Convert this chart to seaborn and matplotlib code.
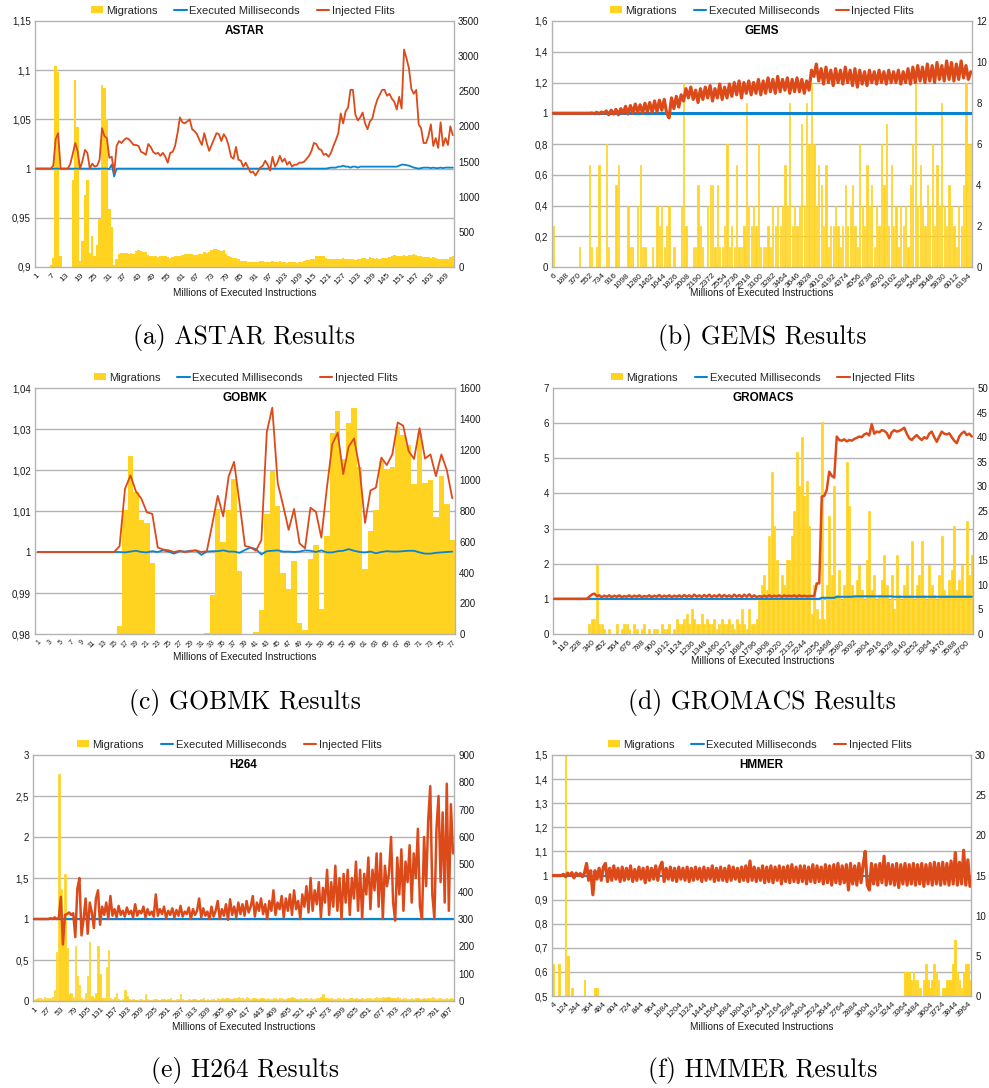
import numpy as np
import matplotlib
matplotlib.use("Agg")
import matplotlib.pyplot as plt
import seaborn as sns
from matplotlib.patches import Patch
from matplotlib.lines import Line2D

sns.set_style("white")
plt.rcParams['font.family'] = ['Liberation Sans', 'DejaVu Sans']

YEL = '#ffd320'
BLUE = '#0a84d0'
RED = '#dd4a1a'
GRID = '#b3b3b3'
TXT = '#1a1a1a'

# ---------------- ASTAR ----------------
astar_x = list(range(1, 173))
astar_mig = ([0, 0, 0, 0, 0, 0,
              30, 130, 2860, 2770, 160, 0, 0, 0,
              0, 1240, 2660, 1985, 80, 365, 1030, 1240, 200, 436, 160, 318, 690, 2590, 2545, 2100, 830, 570, 30, 120,
              190, 200, 205, 200, 190, 200, 185,
              230, 237, 225, 215, 210,
              170, 160, 150, 155, 145, 150, 160, 150, 140,
              135, 140, 150, 160, 150,
              165, 190, 185, 190, 180, 170,
              165, 180, 190, 210, 200,
              215, 240, 255, 250, 240, 225, 240,
              180, 150, 140, 130, 125, 110,
              90, 80, 85, 75, 70, 75, 70, 70, 80, 85, 75, 70,
              75, 80, 70, 75, 80, 70, 65, 60, 70, 75, 65, 60, 70, 75,
              90, 100, 95, 110, 120, 150, 150, 155, 150,
              130, 120, 115, 110, 120, 115, 120, 125, 110, 120, 110, 115,
              105, 120, 110, 125, 130, 120, 140, 125, 120, 135, 120, 130, 135, 130, 140,
              150, 165, 155, 160, 150, 165, 160, 170, 175, 180, 165, 160, 150,
              140, 145, 140, 135, 140, 130, 120, 115, 110, 110, 120, 140, 160])
astar_flits = ([1.0, 1.0, 1.0, 1.0, 1.0, 1.0, 1.0,
                1.003, 1.030, 1.036, 1.0, 1.0, 1.0, 1.0, 1.005, 1.015, 1.026, 1.018, 1.0, 1.008,
                1.019, 1.016, 1.0, 1.005, 1.002, 1.003, 1.009, 1.041, 1.033, 1.031, 1.011, 1.012, 0.996,
                1.023, 1.028, 1.026, 1.029, 1.031, 1.030, 1.027, 1.024, 1.024, 1.023,
                1.017, 1.016, 1.014, 1.025, 1.022, 1.017, 1.015, 1.016, 1.013, 1.016,
                1.012, 1.006, 1.016, 1.017, 1.023, 1.036, 1.052, 1.047, 1.046, 1.048,
                1.050, 1.040, 1.038, 1.035, 1.029, 1.024, 1.036, 1.026, 1.018, 1.024,
                1.030, 1.036, 1.035, 1.028, 1.035, 1.031, 1.023, 1.012, 1.010, 1.022,
                1.009, 1.008, 1.002, 1.006, 1.001, 0.996, 0.997, 0.993, 0.997, 1.001,
                1.003, 1.008, 1.004, 0.998, 1.012, 1.002, 1.006, 1.013, 1.007, 1.010,
                1.004, 1.007, 1.002, 1.004, 1.004, 1.006, 1.006, 1.007, 1.010, 1.013,
                1.018, 1.026, 1.025, 1.020, 1.019, 1.014, 1.015, 1.012, 1.016, 1.023,
                1.029, 1.036, 1.056, 1.046, 1.058, 1.062, 1.080, 1.080, 1.055, 1.049,
                1.052, 1.057, 1.046, 1.040, 1.048, 1.051, 1.062, 1.070, 1.075, 1.080,
                1.080, 1.074, 1.076, 1.071, 1.068, 1.060, 1.073, 1.061, 1.121, 1.112,
                1.102, 1.081, 1.076, 1.080, 1.045, 1.041, 1.026, 1.026, 1.033, 1.045,
                1.023, 1.031, 1.021, 1.047, 1.023, 1.031, 1.024, 1.043, 1.034])
astar_exec = ([1.0] * 30 + [0.9995, 1.004, 0.992, 1.0] + [1.0] * 85
              + [1.0, 1.0005, 1.001, 1.001, 1.001]
              + [1.002, 1.002, 1.003, 1.002, 1.002, 1.001, 1.002, 1.002, 1.001, 1.002, 1.002]
              + [1.002] * 14
              + [1.003, 1.004, 1.004, 1.0035, 1.003, 1.002, 1.001]
              + [1.0005, 1.0, 1.0005, 1.001, 1.001, 1.001, 1.0005, 1.001, 1.0005, 1.0005,
                 1.001, 1.0005, 1.001, 1.001, 1.001, 1.001])

# ---------------- GEMS ----------------
gems_x = [6 + 36 * i for i in range(174)]
gems_mig = [2, 0, 0, 0, 0, 0, 0, 0, 0, 0,
            0, 1, 0, 0, 0, 5, 1, 0, 1, 5,
            0, 0, 6, 1, 0, 0, 4, 5, 0, 0,
            0, 3, 1, 1, 0, 3, 5, 1, 1, 0,
            0, 1, 0, 3, 2, 3, 1, 2, 3, 0,
            1, 0, 0, 3, 9, 2, 0, 0, 1, 1,
            4, 2, 1, 0, 3, 4, 4, 1, 4, 1,
            1, 2, 6, 1, 2, 1, 5, 1, 1, 2,
            8, 3, 2, 3, 2, 6, 1, 1, 1, 2,
            1, 3, 2, 3, 2, 3, 5, 3, 8, 2,
            3, 2, 3, 7, 3, 8, 6, 9, 6, 3,
            5, 4, 2, 5, 1, 2, 2, 3, 2, 1,
            2, 4, 2, 3, 4, 2, 1, 6, 3, 2,
            5, 3, 4, 1, 3, 2, 6, 4, 7, 2,
            5, 2, 3, 1, 3, 2, 3, 1, 4, 6,
            9, 3, 5, 3, 2, 4, 3, 6, 2, 5,
            3, 8, 3, 2, 4, 3, 2, 1, 3, 2,
            4, 9, 6, 6]
gems_flits = ([1.0] * 16
              + [1.002, 0.998, 1.006, 0.997, 1.008, 1.0]
              + [1.015, 0.99, 1.02, 0.995, 1.025, 0.99, 1.03]
              + [1.0, 1.045, 0.995, 1.05, 1.0, 1.06, 1.005, 1.055, 1.0, 1.065]
              + [1.01, 1.07, 1.005, 1.08, 1.01, 1.085, 1.02, 1.09, 1.0]
              + [0.97, 1.1, 1.03, 1.11, 1.04]
              + [1.12, 1.08, 1.16, 1.1, 1.17, 1.09]
              + [1.15, 1.07, 1.16, 1.09, 1.17, 1.1, 1.18, 1.08, 1.16, 1.1, 1.19, 1.09, 1.17, 1.1]
              + [1.19, 1.11, 1.2, 1.12, 1.21, 1.1, 1.2, 1.13, 1.21, 1.12, 1.2, 1.13, 1.22, 1.12]
              + [1.21, 1.13, 1.23, 1.14, 1.22, 1.13, 1.24, 1.14, 1.22, 1.15, 1.23, 1.13, 1.22, 1.14]
              + [1.23, 1.14, 1.22, 1.13, 1.21, 1.15]
              + [1.28, 1.24, 1.32]
              + [1.21, 1.29, 1.19, 1.3, 1.2, 1.28, 1.18, 1.29, 1.2, 1.28, 1.19, 1.3, 1.2, 1.28, 1.18, 1.29, 1.17, 1.28]
              + [1.19, 1.27, 1.18, 1.28, 1.2, 1.27, 1.19, 1.28, 1.2, 1.27, 1.19, 1.28, 1.2, 1.27, 1.2, 1.28,
                 1.19, 1.27, 1.2, 1.29, 1.19]
              + [1.3, 1.2, 1.31, 1.21, 1.3, 1.2, 1.32, 1.21, 1.31, 1.2, 1.33, 1.22, 1.31, 1.21, 1.34, 1.22,
                 1.33, 1.21, 1.32, 1.22, 1.34, 1.23, 1.31, 1.22, 1.27])
gems_exec = [1.0] * 174

# ---------------- GOBMK ----------------
gobmk_x = list(range(1, 78))
gobmk_mig = ([0] * 15
             + [54, 805, 1160, 922, 744, 722, 462]
             + [0] * 9
             + [6, 252, 815, 599, 805, 1010, 410, 0, 0, 10, 156, 780, 1060, 832, 399, 295, 477, 74, 28,
                488, 579, 163, 639, 1305, 1450, 1138, 1375, 1472, 1088, 420, 672, 805, 1125, 1073, 1088,
                1349, 1294, 1229, 975, 1305, 984, 1002, 759, 1030, 846, 611])
gobmk_flits = ([1.0] * 15
               + [1.0014, 1.0154, 1.0187, 1.0148, 1.013, 1.0097, 1.0093, 1.0011, 1.0006, 1.0004,
                  1.0, 1.0003, 1.0, 1.0002, 1.0004, 1.0, 1.0002, 1.0068, 1.0137, 1.0087,
                  1.0184, 1.022, 1.0119, 1.0015, 1.0011, 1.0003, 1.0029, 1.0293, 1.0352, 1.0168,
                  1.0113, 1.0054, 1.0105, 1.0021, 1.0009, 1.0108, 1.0098, 1.0035, 1.0155, 1.0263,
                  1.0291, 1.019, 1.0257, 1.0277, 1.0204, 1.0071, 1.015, 1.0157, 1.023, 1.0212,
                  1.0238, 1.0316, 1.0308, 1.0246, 1.0227, 1.0302, 1.0228, 1.0238, 1.0185, 1.0238,
                  1.02, 1.0131])
gobmk_exec = ([1.0] * 15
              + [1.0, 0.9999, 1.0001, 1.0003, 1.0, 0.9999, 1.0002, 1.0, 1.0004, 1.0001,
                 0.9996, 1.0002, 1.0001, 1.0003, 1.0004, 0.9993, 1.0001, 1.0002, 1.0002, 1.0004,
                 1.0001, 1.0001, 0.9998, 1.0005, 1.0011, 1.0007, 0.9994, 1.0002, 1.0003, 1.0004,
                 1.0001, 1.0001, 1.0, 1.0001, 1.0004, 1.0003, 1.0, 1.0004, 0.9999, 0.9999,
                 1.0002, 1.0003, 1.0007, 1.0003, 1.0, 0.9999, 1.0001, 0.9997, 1.0, 1.0002,
                 1.0001, 1.0001, 1.0002, 1.0003, 1.0003, 0.9999, 0.9996, 0.9996, 0.9998, 0.9999,
                 1.0, 1.0001])

# ---------------- GROMACS ----------------
gromacs_x = [4 + 22.4 * i for i in range(168)]
gromacs_mig = ([0] * 14
               + [2, 3, 3, 14, 2, 2, 1]
               + [0, 1, 0, 0, 2, 0, 1, 2, 2, 1,
                  0, 2, 1, 0, 1, 2, 0, 1, 0, 1,
                  1, 0, 2, 1, 1, 2, 0, 1, 3, 2,
                  2, 3, 4, 2, 5, 3, 2, 2, 4, 2,
                  3, 2, 2, 3, 1, 2, 3, 2, 2, 3,
                  2, 1, 3, 2, 5, 2, 1, 5, 2, 2, 3, 7]
               + [10, 12, 9, 20, 33, 22, 15, 8, 12, 10, 15, 15, 20, 25, 37, 30, 40, 28, 31, 22,
                  4, 10, 5, 3, 43, 3, 10, 24, 12, 30, 8, 13, 7, 10, 35, 26, 10, 8, 11, 14,
                  9, 7, 15, 25, 9, 12, 7, 8, 11, 16, 10, 7, 12, 5, 16, 8, 7, 10, 14, 8,
                  19, 7, 10, 12, 19, 8, 7, 14, 10, 8, 7, 12, 20, 9, 8, 11, 13, 22, 9, 11,
                  14, 8, 23, 12, 16])
gromacs_flits = ([1.0] * 14
                 + [1.06, 1.12, 1.15, 1.08, 1.1, 1.05, 1.09, 1.06, 1.1, 1.05,
                    1.09, 1.06, 1.1, 1.05, 1.08, 1.06, 1.1, 1.05, 1.09, 1.06,
                    1.1, 1.05, 1.08, 1.06, 1.1, 1.05, 1.09, 1.06, 1.11, 1.05,
                    1.09, 1.06, 1.1, 1.05, 1.09, 1.06, 1.1, 1.05, 1.11, 1.06,
                    1.1, 1.05, 1.12, 1.06, 1.1, 1.05, 1.11, 1.06, 1.12, 1.05,
                    1.1, 1.06, 1.12, 1.05, 1.11, 1.06, 1.1, 1.05, 1.12, 1.06,
                    1.11, 1.05, 1.12, 1.06, 1.13, 1.05, 1.1, 1.05, 1.08, 1.06,
                    1.09, 1.06, 1.1, 1.06, 1.09, 1.07, 1.1, 1.06, 1.1, 1.07,
                    1.09, 1.07, 1.1, 1.06, 1.1, 1.07, 1.09, 1.07, 1.08, 1.08, 1.08]
                 + [1.44, 1.44, 3.91, 3.93, 4.1, 4.62, 4.5, 4.45]
                 + [5.62, 5.52, 5.5, 5.54, 5.48, 5.52, 5.5, 5.55, 5.58, 5.62,
                    5.6, 5.68, 5.71, 5.65, 5.97, 5.7, 5.76, 5.74, 5.8, 5.78,
                    5.72, 5.57, 5.74, 5.8, 5.76, 5.78, 5.82, 5.87, 5.7, 5.57,
                    5.52, 5.6, 5.66, 5.58, 5.52, 5.6, 5.56, 5.7, 5.76, 5.6,
                    5.47, 5.62, 5.76, 5.7, 5.68, 5.71, 5.6, 5.5, 5.43, 5.62,
                    5.71, 5.76, 5.66, 5.7, 5.62])
gromacs_exec = [1.0] * 107 + [1.03] * 6 + [1.06] * 7 + [1.07] * 16 + [1.06] * 32

# ---------------- H264 ----------------
h264_x = [1 + 4 * i for i in range(204)]
h264_mig = [5, 8, 10, 12, 8, 15, 12, 10, 12, 15,
            40, 180, 830, 410, 230, 465, 195, 25, 30, 15,
            200, 90, 60, 10, 8, 30, 90, 215, 20, 10,
            30, 200, 100, 10, 12, 125, 186, 10, 8, 15,
            30, 8, 5, 6, 39, 20, 6, 5, 8, 5,
            4, 6, 8, 5, 25, 6, 4, 5, 8, 6,
            5, 4, 6, 8, 5, 6, 12, 5, 4, 6,
            8, 25, 6, 5, 4, 6, 5, 8, 6, 5,
            4, 6, 10, 5, 6, 4, 8, 6, 5, 10,
            6, 12, 8, 10, 12, 8, 6, 10, 12, 15,
            10, 12, 8, 15, 10, 8, 12, 10, 8, 6,
            10, 12, 8, 10, 6, 8, 12, 10, 8, 10,
            12, 8, 6, 10, 12, 14, 10, 8, 6, 10,
            8, 10, 12, 8, 10, 6, 8, 10, 12, 14,
            25, 12, 10, 8, 10, 6, 8, 12, 10, 8,
            10, 8, 6, 10, 12, 8, 10, 6, 8, 10,
            8, 10, 12, 10, 8, 12, 14, 10, 12, 15,
            12, 14, 15, 12, 10, 12, 14, 10, 8, 12,
            10, 8, 6, 10, 8, 12, 10, 8, 6, 10,
            8, 12, 10, 14, 10, 8, 12, 10, 6, 8,
            12, 8, 10, 6]
h264_flits = [1.0, 1.0, 1.0, 1.0, 1.0, 1.0, 1.0, 1.0, 1.01, 1.0,
              1.02, 1.0, 1.01, 1.27, 0.69, 1.05, 1.06, 1.08, 1.05, 1.07,
              0.78, 1.37, 1.5, 0.8, 1.0, 1.25, 0.82, 1.2, 1.08, 0.89,
              1.25, 1.35, 0.93, 1.15, 1.05, 1.2, 1.0, 1.28, 1.04, 1.12,
              1.02, 1.16, 1.05, 1.1, 1.03, 1.14, 1.06, 1.1, 1.02, 1.18,
              1.04, 1.1, 1.07, 1.15, 1.02, 1.12, 1.05, 1.09, 1.03, 1.3,
              1.04, 1.12, 1.06, 1.15, 1.01, 1.1, 1.05, 1.13, 1.02, 1.11,
              1.04, 1.16, 1.03, 1.09, 1.06, 1.14, 1.0, 1.12, 1.05, 1.1,
              1.25, 1.02, 1.13, 1.04, 1.09, 1.0, 1.15, 1.03, 1.1, 1.22,
              1.0, 1.12, 1.04, 1.18, 0.99, 1.24, 1.05, 1.15, 1.02, 1.2,
              1.06, 1.18, 1.04, 1.22, 1.08, 1.15, 1.28, 1.03, 1.2, 1.1,
              1.25, 1.06, 1.18, 1.0, 1.22, 1.1, 1.35, 1.05, 1.2, 1.12,
              1.28, 1.02, 1.25, 1.1, 1.3, 1.05, 1.35, 1.12, 1.22, 1.0,
              1.3, 1.15, 1.4, 1.08, 1.5, 1.1, 1.35, 1.18, 1.45, 1.02,
              1.38, 1.2, 1.6, 1.05, 1.45, 1.15, 1.65, 1.1, 1.5, 1.0,
              1.55, 1.2, 1.6, 1.05, 1.5, 1.25, 1.7, 1.1, 1.6, 1.0,
              1.55, 1.3, 1.75, 1.12, 1.6, 1.35, 1.8, 1.15, 1.8, 1.0,
              1.65, 1.4, 1.55, 2.0, 1.2, 0.98, 1.75, 1.3, 1.85, 1.1,
              1.7, 1.45, 1.9, 1.2, 1.8, 1.5, 2.1, 1.15, 1.0, 2.0,
              1.4, 2.2, 2.62, 1.3, 1.0, 2.1, 2.5, 1.45, 2.3, 1.2,
              2.65, 1.1, 2.4, 1.8]
h264_exec = [1.0] * 204

# ---------------- HMMER ----------------
hmmer_x = [4 + 20 * i for i in range(200)]
hmmer_mig = ([4, 0, 0, 4, 0, 0, 30, 5, 0, 1, 0, 0, 0, 0, 0, 2, 0, 0, 0, 0, 1, 1]
             + [0] * 146
             + [3, 3, 3, 2, 3, 2, 2, 1, 0, 2, 4, 2, 1, 2, 4, 3, 2, 0, 1, 1,
                2, 2, 2, 4, 7, 3, 2, 1, 3, 4, 4, 2])
hmmer_flits = [1.0, 1.0, 1.0, 1.0, 1.0, 1.005, 0.995, 1.01, 1.0, 1.012,
               0.99, 1.01, 1.0, 1.008, 0.995, 1.01, 1.05, 0.98, 1.02, 0.92,
               1.02, 0.985, 1.03, 0.98, 1.035, 1.05, 0.975, 1.03, 0.98, 1.04,
               0.985, 1.03, 0.975, 1.035, 0.98, 1.03, 0.985, 1.04, 0.975, 1.025,
               0.98, 1.035, 0.985, 1.03, 0.97, 1.035, 0.98, 1.03, 0.985, 1.04,
               0.98, 1.035, 1.055, 0.975, 1.03, 0.985, 1.035, 0.98, 1.03, 0.975,
               1.035, 0.985, 1.03, 0.98, 1.035, 0.975, 1.03, 0.98, 1.035, 0.985,
               1.03, 0.975, 1.035, 0.98, 1.03, 0.985, 1.04, 0.975, 1.03, 0.98,
               1.035, 0.98, 1.03, 0.975, 1.04, 0.98, 1.035, 0.985, 1.03, 0.975,
               1.035, 0.98, 1.04, 0.975, 1.06, 0.98, 1.035, 0.975, 1.03, 0.98,
               1.04, 0.97, 1.035, 0.975, 1.04, 0.97, 1.035, 0.98, 1.04, 0.965,
               1.035, 0.975, 1.04, 0.97, 1.045, 0.975, 1.035, 0.97, 1.04, 0.975,
               1.04, 0.965, 1.035, 0.975, 1.045, 0.97, 1.04, 0.975, 1.035, 0.965,
               1.045, 0.97, 1.04, 0.96, 1.045, 0.97, 1.05, 0.965, 1.04, 0.97,
               1.045, 0.94, 1.05, 0.965, 1.04, 0.96, 1.05, 0.97, 1.045, 1.1,
               0.96, 0.94, 1.05, 0.965, 1.045, 0.96, 1.05, 0.97, 1.08, 0.96,
               1.05, 0.965, 1.045, 0.96, 1.05, 0.95, 1.045, 0.965, 1.05, 0.96,
               1.045, 0.965, 1.05, 0.96, 1.045, 0.965, 1.05, 0.955, 1.045, 0.965,
               1.05, 0.96, 1.055, 0.965, 1.05, 0.96, 1.055, 0.965, 1.05, 0.96,
               1.06, 0.965, 1.095, 0.96, 1.055, 0.965, 1.105, 0.96, 1.065, 0.955]
hmmer_exec = [1.0] * 200

LEGEND_LABELS = ['Migrations', 'Executed Milliseconds', 'Injected Flits']
XLABEL = 'Millions of Executed Instructions'

W, H = 989, 1088
fig = plt.figure(figsize=(W / 100, H / 100), dpi=100)


def panel(px, title, x, mig, exe, flits, xlim, xticks, lticks, llabels, rticks, rlabels,
          bar_w, bar_lw, lw_e, lw_f, leg_cx, xlab_off, xt_fs=6):
    assert len(x) == len(mig) == len(exe) == len(flits), (title, len(x), len(mig), len(exe), len(flits))
    l, t, r, b = px
    hpx = b - t
    ax = fig.add_axes([l / W, 1 - b / H, (r - l) / W, hpx / H])
    axb = ax.twinx()
    ax.set_zorder(axb.get_zorder() + 1)
    ax.patch.set_visible(False)

    lo, hi = lticks[0], lticks[-1]
    for tv in lticks[1:-1]:
        f = (tv - lo) / (hi - lo)
        axb.plot([0, 1], [f, f], transform=axb.transAxes, color=GRID, lw=1.0, zorder=0.5,
                 solid_capstyle='butt')

    sns.barplot(x=x, y=mig, native_scale=True, orient='x', width=bar_w, color=YEL,
                saturation=1, linewidth=bar_lw, edgecolor=YEL, errorbar=None, ax=axb)
    sns.lineplot(x=x, y=exe, color=BLUE, lw=lw_e, errorbar=None, ax=ax)
    sns.lineplot(x=x, y=flits, color=RED, lw=lw_f, errorbar=None, ax=ax)

    ax.set_ylim(lo, hi)
    axb.set_ylim(rticks[0], rticks[-1])
    ax.set_xlim(*xlim)
    axb.set_xlim(*xlim)

    ax.set_yticks(lticks)
    ax.set_yticklabels(llabels, fontsize=7, color=TXT)
    ax.tick_params(axis='y', length=0, pad=3)
    axb.set_yticks(rticks)
    axb.set_yticklabels(rlabels, fontsize=7, color=TXT)
    axb.tick_params(axis='y', length=0, pad=3)
    ax.set_xticks(xticks)
    ax.set_xticklabels([str(v) for v in xticks], rotation=45, ha='right',
                       rotation_mode='anchor', fontsize=xt_fs, color=TXT)
    ax.tick_params(axis='x', length=2, color=GRID, pad=1.5)
    ax.set_ylabel('')
    axb.set_ylabel('')
    ax.set_xlabel(XLABEL, fontsize=7.2, color=TXT)
    ax.xaxis.set_label_coords(0.5, -xlab_off / hpx)

    for s in ax.spines.values():
        s.set_visible(False)
    for s in axb.spines.values():
        s.set_color(GRID)
        s.set_linewidth(1.0)

    ax.text(0.5, 1 - 9.5 / hpx, title, transform=ax.transAxes, ha='center', va='center',
            fontsize=8.5, fontweight='bold', color='black')

    handles = [Patch(facecolor=YEL, edgecolor='none'),
               Line2D([], [], color=BLUE, lw=1.5),
               Line2D([], [], color=RED, lw=1.5)]
    ax.legend(handles, LEGEND_LABELS, loc='center', bbox_to_anchor=(leg_cx, 1 + 10.5 / hpx),
              ncol=3, frameon=False, fontsize=8, handlelength=1.1, handleheight=0.6,
              handletextpad=0.25, columnspacing=1.55, borderaxespad=0, borderpad=0)
    return ax


panel((35, 21, 454, 267), 'ASTAR', astar_x, astar_mig, astar_exec, astar_flits,
      (0.5, 172.5), list(range(1, 170, 6)),
      [0.9, 0.95, 1.0, 1.05, 1.1, 1.15], ['0,9', '0,95', '1', '1,05', '1,1', '1,15'],
      list(range(0, 3501, 500)), [str(v) for v in range(0, 3501, 500)],
      1.0, 0, 1.3, 1.3, 0.496, 21)

panel((552, 21, 972, 267), 'GEMS', gems_x, gems_mig, gems_exec, gems_flits,
      (-12, 6252), list(range(6, 6195, 182)),
      [0, 0.2, 0.4, 0.6, 0.8, 1.0, 1.2, 1.4, 1.6],
      ['0', '0,2', '0,4', '0,6', '0,8', '1', '1,2', '1,4', '1,6'],
      list(range(0, 13, 2)), [str(v) for v in range(0, 13, 2)],
      0.5, 0.5, 2.2, 2.3, 0.5, 21)

panel((35, 388, 455, 634), 'GOBMK', gobmk_x, gobmk_mig, gobmk_exec, gobmk_flits,
      (0.5, 77.5), list(range(1, 78, 2)),
      [0.98, 0.99, 1.0, 1.01, 1.02, 1.03, 1.04],
      ['0,98', '0,99', '1', '1,01', '1,02', '1,03', '1,04'],
      list(range(0, 1601, 200)), [str(v) for v in range(0, 1601, 200)],
      1.0, 0, 1.3, 1.3, 0.502, 17.5, xt_fs=5)

panel((553, 388, 973, 634), 'GROMACS', gromacs_x, gromacs_mig, gromacs_exec, gromacs_flits,
      (-7.2, 3756), list(range(4, 3701, 112)),
      [0, 1, 2, 3, 4, 5, 6, 7], ['0', '1', '2', '3', '4', '5', '6', '7'],
      list(range(0, 51, 5)), [str(v) for v in range(0, 51, 5)],
      0.9, 0.5, 1.5, 1.8, 0.5, 21.5)

panel((33, 755, 454, 1001), 'H264', h264_x, h264_mig, h264_exec, h264_flits,
      (-1, 815), list(range(1, 808, 26)),
      [0, 0.5, 1.0, 1.5, 2.0, 2.5, 3.0], ['0', '0,5', '1', '1,5', '2', '2,5', '3'],
      list(range(0, 901, 100)), [str(v) for v in range(0, 901, 100)],
      0.7, 0.5, 1.6, 1.8, 0.466, 21.5)

panel((552, 755, 971, 996), 'HMMER', hmmer_x, hmmer_mig, hmmer_exec, hmmer_flits,
      (-6, 3994), list(range(4, 3965, 120)),
      [0.5, 0.6, 0.7, 0.8, 0.9, 1.0, 1.1, 1.2, 1.3, 1.4, 1.5],
      ['0,5', '0,6', '0,7', '0,8', '0,9', '1', '1,1', '1,2', '1,3', '1,4', '1,5'],
      list(range(0, 31, 5)), [str(v) for v in range(0, 31, 5)],
      0.8, 0.6, 1.3, 2.3, 0.496, 26.5)

captions = [('(a) ASTAR Results', 244, 337), ('(b) GEMS Results', 762, 337),
            ('(c) GOBMK Results', 245, 703), ('(d) GROMACS Results', 762, 703),
            ('(e) H264 Results', 245, 1070), ('(f) HMMER Results', 763, 1070)]
for txt, cx, cy in captions:
    fig.text(cx / W, 1 - cy / H, txt, family=['cmr10', 'DejaVu Serif'], fontsize=18.5,
             ha='center', va='center', color='black')

fig.savefig('out.png', dpi=100)
